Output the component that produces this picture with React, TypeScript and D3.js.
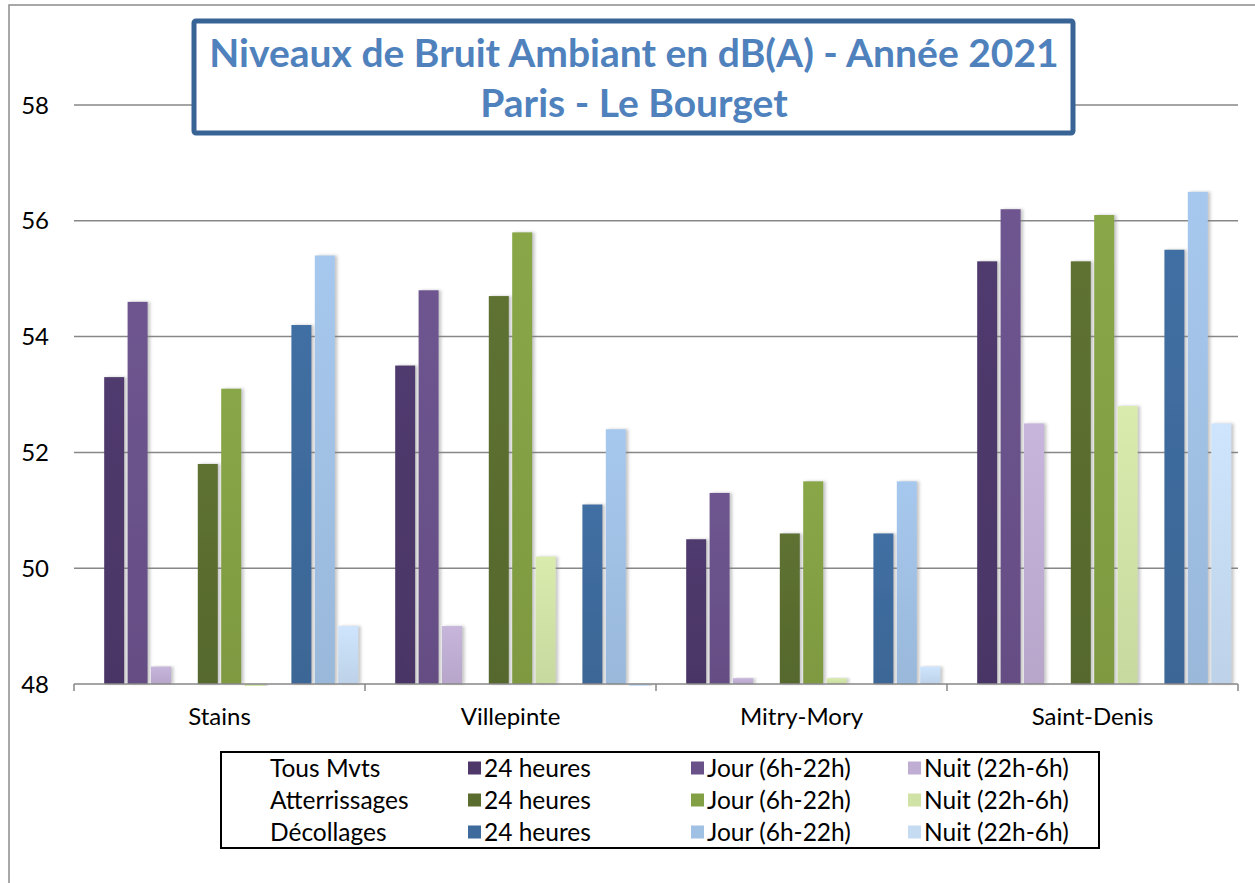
import React, { useEffect, useRef } from 'react'
import * as d3 from 'd3'

const categories = ['Stains', 'Villepinte', 'Mitry-Mory', 'Saint-Denis']
const groupLabels = ['Tous Mvts', 'Atterrissages', 'Décollages']
const periodLabels = ['24 heures', 'Jour (6h-22h)', 'Nuit (22h-6h)']
const yTicks = [48, 50, 52, 54, 56, 58]

const tous24h = [53.3, 53.5, 50.5, 55.3]
const tousJour = [54.6, 54.8, 51.3, 56.2]
const tousNuit = [48.3, 49.0, 48.1, 52.5]
const atter24h = [51.8, 54.7, 50.6, 55.3]
const atterJour = [53.1, 55.8, 51.5, 56.1]
const atterNuit = [47.9, 50.2, 48.1, 52.8]
const decol24h = [54.2, 51.1, 50.6, 55.5]
const decolJour = [55.4, 52.4, 51.5, 56.5]
const decolNuit = [49.0, 47.9, 48.3, 52.5]

const colors = [
  ['#4d3869', '#69518a', '#bfadd3'],
  ['#5a6d2f', '#83a044', '#d0e2a6'],
  ['#3e6a9c', '#a0c0e4', '#c5dbf2'],
]

interface Series {
  key: string
  group: number
  period: number
  values: number[]
}

const series: Series[] = [
  { key: 'tous24h', group: 0, period: 0, values: tous24h },
  { key: 'tousJour', group: 0, period: 1, values: tousJour },
  { key: 'tousNuit', group: 0, period: 2, values: tousNuit },
  { key: 'atter24h', group: 1, period: 0, values: atter24h },
  { key: 'atterJour', group: 1, period: 1, values: atterJour },
  { key: 'atterNuit', group: 1, period: 2, values: atterNuit },
  { key: 'decol24h', group: 2, period: 0, values: decol24h },
  { key: 'decolJour', group: 2, period: 1, values: decolJour },
  { key: 'decolNuit', group: 2, period: 2, values: decolNuit },
]

// Excel-like layout: an empty slot before each group of three bars
const slots = ['gap0', 'tous24h', 'tousJour', 'tousNuit', 'gap1', 'atter24h', 'atterJour', 'atterNuit', 'gap2', 'decol24h', 'decolJour', 'decolNuit']

const FONT = 'Lato, "Open Sans", sans-serif'

const App: React.FC = () => {
  const svgRef = useRef<SVGSVGElement>(null)

  useEffect(() => {
    if (!svgRef.current) return
    const svg = d3.select(svgRef.current)
    svg.selectAll('*').remove()

    const W = 1255
    const H = 883
    const left = 74
    const right = 1238
    const top = 105
    const bottom = 684

    svg.attr('width', W).attr('height', H)

    const defs = svg.append('defs')
    const shadow = defs.append('filter').attr('id', 'barShadow').attr('x', '-30%').attr('y', '-5%').attr('width', '160%').attr('height', '110%')
    shadow.append('feDropShadow')
      .attr('dx', 2.5).attr('dy', 0).attr('stdDeviation', 1.5)
      .attr('flood-color', '#808080').attr('flood-opacity', 0.45)

    defs.append('clipPath').attr('id', 'plotClip')
      .append('rect').attr('x', left).attr('y', 0).attr('width', right - left).attr('height', bottom + 2)

    colors.forEach((row, gi) => row.forEach((c, pi) => {
      const grad = defs.append('linearGradient').attr('id', `g${gi}${pi}`)
        .attr('x1', 0).attr('y1', 0).attr('x2', 0).attr('y2', 1)
      grad.append('stop').attr('offset', '0%').attr('stop-color', d3.color(c)!.brighter(0.12).formatHex())
      grad.append('stop').attr('offset', '100%').attr('stop-color', d3.color(c)!.darker(0.12).formatHex())
    }))

    // outer chart frame
    svg.append('rect')
      .attr('x', 9).attr('y', 5).attr('width', W + 20).attr('height', H + 20)
      .attr('fill', '#fff').attr('stroke', '#8c8c8c').attr('stroke-width', 1.5)

    const x0 = d3.scaleBand<string>().domain(categories).range([left, right])
    const x1 = d3.scaleBand<string>().domain(slots).range([0, x0.bandwidth()])
      .paddingInner(0.145).paddingOuter(0.29)
    const y = d3.scaleLinear().domain([48, 58]).range([bottom, top])

    // gridlines
    svg.append('g')
      .selectAll('line')
      .data(yTicks.filter(t => t > 48))
      .enter()
      .append('line')
      .attr('x1', left).attr('x2', right)
      .attr('y1', d => y(d)).attr('y2', d => y(d))
      .attr('stroke', '#878787').attr('stroke-width', 1.5)

    // y labels
    svg.append('g')
      .selectAll('text')
      .data(yTicks)
      .enter()
      .append('text')
      .attr('x', 49)
      .attr('y', d => y(d))
      .attr('dy', '0.36em')
      .attr('text-anchor', 'end')
      .style('font-family', FONT)
      .style('font-size', '24px')
      .attr('fill', '#000')
      .text(d => d)

    // bars
    const barsG = svg.append('g').attr('clip-path', 'url(#plotClip)')
    series.forEach(s => {
      barsG.append('g')
        .selectAll('rect')
        .data(s.values.map((v, i) => ({ v, cat: categories[i] })))
        .enter()
        .append('rect')
        .attr('x', d => (x0(d.cat) ?? 0) + (x1(s.key) ?? 0))
        .attr('width', x1.bandwidth())
        .attr('y', d => Math.min(y(d.v), y(48)))
        .attr('height', d => Math.abs(y(48) - y(d.v)))
        .attr('fill', `url(#g${s.group}${s.period})`)
        .attr('filter', 'url(#barShadow)')
    })

    // x axis
    const axisG = svg.append('g')
    axisG.append('line')
      .attr('x1', left).attr('x2', right).attr('y1', bottom).attr('y2', bottom)
      .attr('stroke', '#878787').attr('stroke-width', 1.5)
    const bounds = [...categories.map(c => x0(c) ?? 0), right]
    axisG.selectAll('.tick')
      .data(bounds)
      .enter()
      .append('line')
      .attr('x1', d => d).attr('x2', d => d)
      .attr('y1', bottom).attr('y2', bottom + 7)
      .attr('stroke', '#878787').attr('stroke-width', 1.5)
    axisG.selectAll('.cat')
      .data(categories)
      .enter()
      .append('text')
      .attr('x', d => (x0(d) ?? 0) + x0.bandwidth() / 2)
      .attr('y', 725)
      .attr('text-anchor', 'middle')
      .style('font-family', FONT)
      .style('font-size', '24px')
      .attr('fill', '#000')
      .text(d => d)

    // title box
    const tg = svg.append('g')
    tg.append('rect')
      .attr('x', 194).attr('y', 21).attr('width', 879).attr('height', 112)
      .attr('rx', 2)
      .attr('fill', '#fff').attr('stroke', '#386395').attr('stroke-width', 5)
    tg.append('text')
      .attr('x', 634).attr('y', 67)
      .attr('text-anchor', 'middle')
      .style('font-family', FONT).style('font-weight', 'bold').style('font-size', '39px')
      .attr('fill', '#4f81bd')
      .text('Niveaux de Bruit Ambiant en dB(A) - Année 2021')
    tg.append('text')
      .attr('x', 634).attr('y', 117)
      .attr('text-anchor', 'middle')
      .style('font-family', FONT).style('font-weight', 'bold').style('font-size', '39px')
      .attr('fill', '#4f81bd')
      .text('Paris - Le Bourget')

    // legend
    const lg = svg.append('g')
    lg.append('rect')
      .attr('x', 221).attr('y', 752).attr('width', 878).attr('height', 96)
      .attr('fill', '#fff').attr('stroke', '#000').attr('stroke-width', 2)
    const rowY = (i: number) => 768 + i * 32
    const colX = [468, 691, 908]
    groupLabels.forEach((g, gi) => {
      lg.append('text')
        .attr('x', 270).attr('y', rowY(gi)).attr('dy', '0.36em')
        .style('font-family', FONT).style('font-size', '24.5px')
        .text(g)
      periodLabels.forEach((p, pi) => {
        lg.append('rect')
          .attr('x', colX[pi]).attr('y', rowY(gi) - 6.5)
          .attr('width', 13).attr('height', 13)
          .attr('fill', colors[gi][pi])
        lg.append('text')
          .attr('x', colX[pi] + 16).attr('y', rowY(gi)).attr('dy', '0.36em')
          .style('font-family', FONT).style('font-size', '24.5px')
          .text(p)
      })
    })
  }, [])

  return (
    <div style={{ position: 'absolute', left: 0, top: 0 }}>
      <svg ref={svgRef} style={{ display: 'block' }}></svg>
    </div>
  )
}

export default App
